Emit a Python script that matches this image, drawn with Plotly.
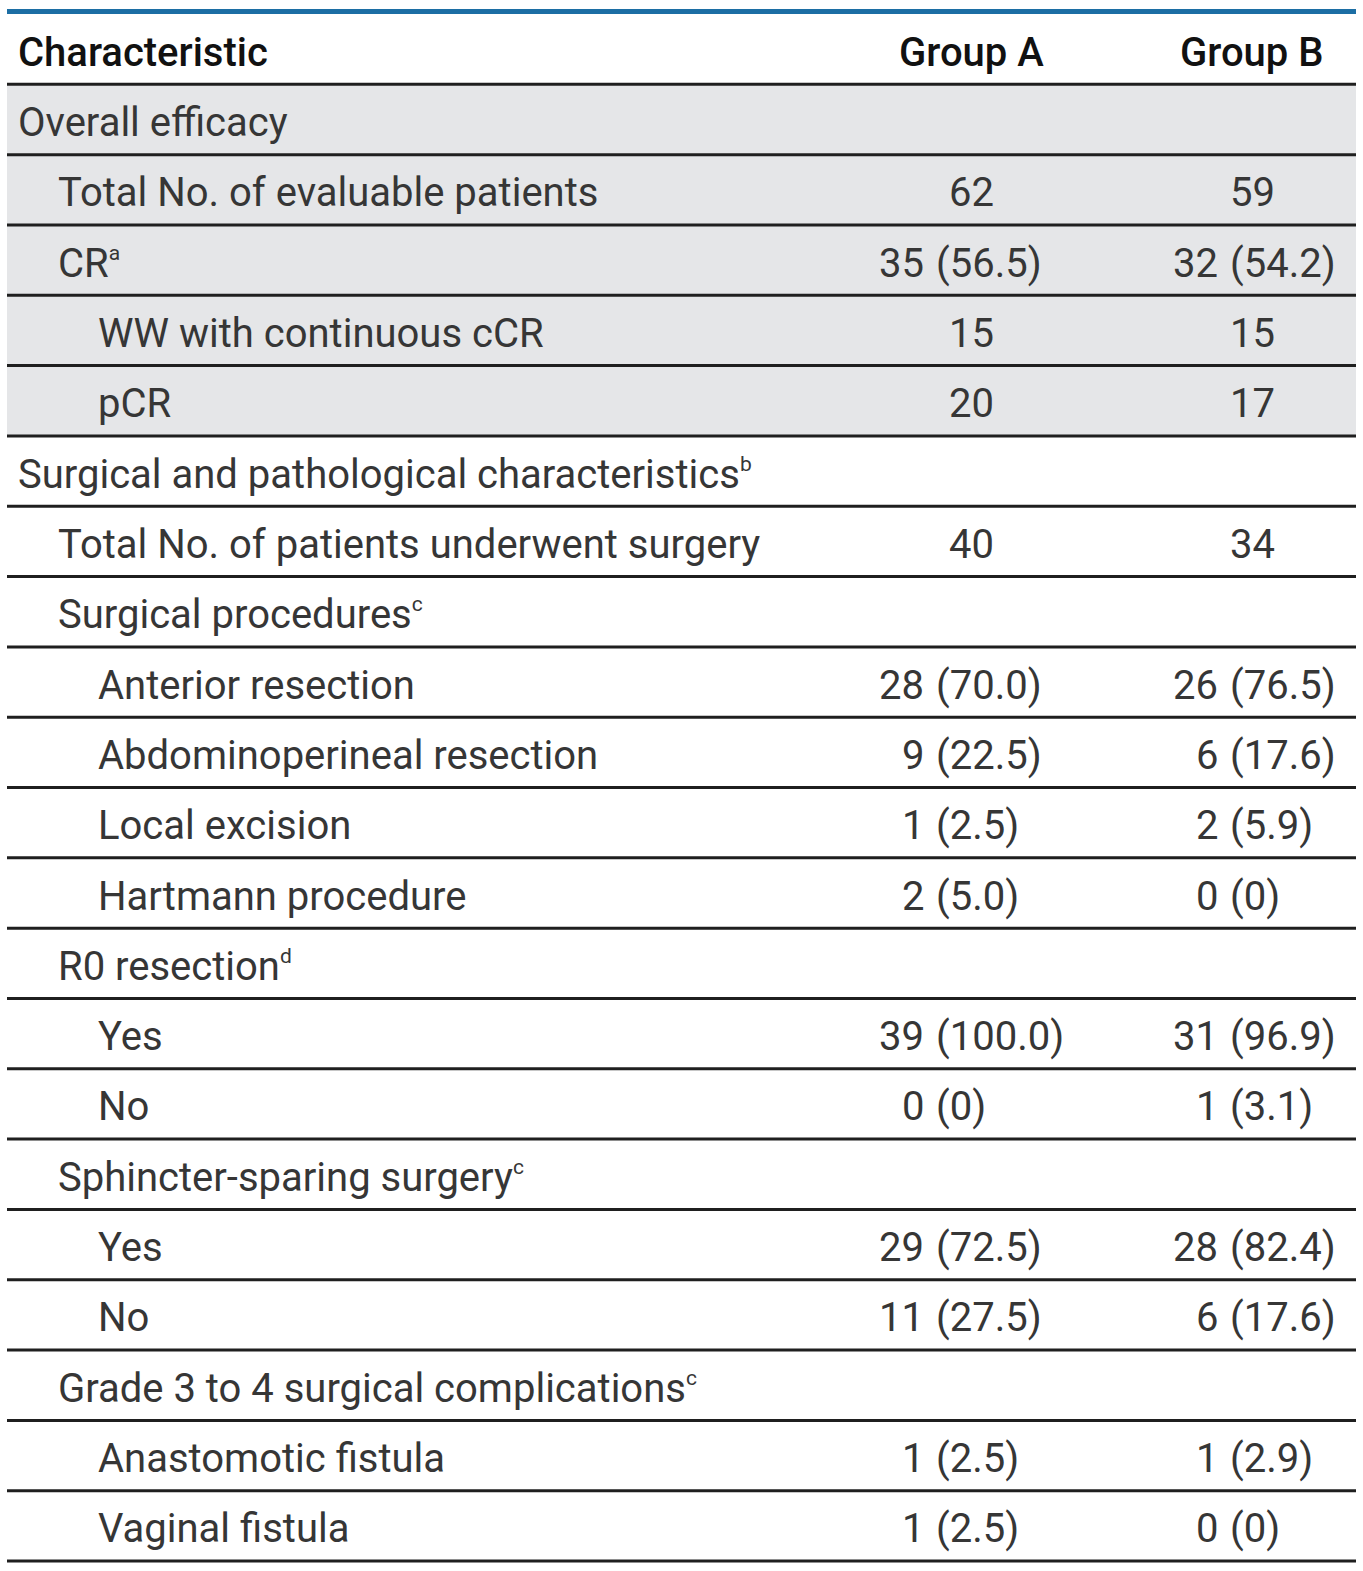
import plotly.graph_objects as go

# ---------------- data ----------------
headers = ["Characteristic", "Group A", "Group B"]

labels = [
    "Overall efficacy",
    "Total No. of evaluable patients",
    "CR",
    "WW with continuous cCR",
    "pCR",
    "Surgical and pathological characteristics",
    "Total No. of patients underwent surgery",
    "Surgical procedures",
    "Anterior resection",
    "Abdominoperineal resection",
    "Local excision",
    "Hartmann procedure",
    "R0 resection",
    "Yes",
    "No",
    "Sphincter-sparing surgery",
    "Yes",
    "No",
    "Grade 3 to 4 surgical complications",
    "Anastomotic fistula",
    "Vaginal fistula",
]
footnote_marks = ["", "", "a", "", "", "b", "", "c", "", "", "", "", "d", "", "", "c", "", "", "c", "", ""]
levels = [0, 1, 1, 2, 2, 0, 1, 1, 2, 2, 2, 2, 1, 2, 2, 1, 2, 2, 1, 2, 2]

a_n = [None, 62, 35, 15, 20, None, 40, None, 28, 9, 1, 2, None, 39, 0, None, 29, 11, None, 1, 1]
a_pct = [None, None, "56.5", None, None, None, None, None, "70.0", "22.5", "2.5", "5.0",
         None, "100.0", "0", None, "72.5", "27.5", None, "2.5", "2.5"]
b_n = [None, 59, 32, 15, 17, None, 34, None, 26, 6, 2, 0, None, 31, 1, None, 28, 6, None, 1, 0]
b_pct = [None, None, "54.2", None, None, None, None, None, "76.5", "17.6", "5.9", "0",
         None, "96.9", "3.1", None, "82.4", "17.6", None, "2.9", "0"]

shaded = [True] * 5 + [False] * 16

# ---------------- style ----------------
W, H = 1363, 1571
FONT = "Roboto, Arial, sans-serif"
FS = 40
TXT = "#363636"
HDR = "#111111"
X0, X1 = 7, 1356
indent_x = [16, 56, 96]
colA_center, colB_center = 971, 1252
colA_split, colB_split = 926, 1220
gap = 8
TOP_PX, ROW_PX = 14, 70.32
YSHIFT = -3

n_rows = len(labels) + 1  # including header
y_top = -0.5 - TOP_PX / ROW_PX
y_bot = (H - TOP_PX) / ROW_PX - 0.5

fig = go.Figure()
fig.add_trace(go.Scatter(x=[], y=[], showlegend=False))

annotations = []
shapes = []


def ann(x, y, text, anchor, color=TXT, weight=400):
    annotations.append(dict(
        x=x, y=y, xref="x", yref="y", text=text, showarrow=False,
        xanchor=anchor, yanchor="middle", yshift=YSHIFT,
        font=dict(family=FONT, size=FS, color=color, weight=weight),
    ))


# header
ann(indent_x[0], 0, headers[0], "left", HDR, 500)
ann(colA_center, 0, headers[1], "center", HDR, 500)
ann(colB_center, 0, headers[2], "center", HDR, 500)

# body
for i, lab in enumerate(labels):
    r = i + 1
    if shaded[i]:
        shapes.append(dict(type="rect", xref="x", yref="y", x0=X0, x1=X1, y0=r - 0.5, y1=r + 0.5,
                           fillcolor="#e5e6e8", line=dict(width=0), layer="below"))
    txt = lab
    if footnote_marks[i]:
        txt += f"<sup><span style='font-size:75%'>{footnote_marks[i]}</span></sup>"
    ann(indent_x[levels[i]], r, txt, "left")
    for n, pct, center, split in ((a_n[i], a_pct[i], colA_center, colA_split),
                                  (b_n[i], b_pct[i], colB_center, colB_split)):
        if n is None:
            continue
        if pct is None:
            ann(center, r, str(n), "center")
        else:
            ann(split, r, str(n), "right")
            ann(split + gap, r, f"({pct})", "left")

# horizontal rules
for k in range(n_rows):
    yb = k + 0.5
    shapes.append(dict(type="line", xref="x", yref="y", x0=X0, x1=X1, y0=yb, y1=yb,
                       line=dict(color="#1f1f1f", width=3)))
# top blue rule
yblue = -0.5 - 2.5 / ROW_PX
shapes.append(dict(type="line", xref="x", yref="y", x0=X0, x1=X1, y0=yblue, y1=yblue,
                   line=dict(color="#1c6ea4", width=5)))

fig.update_layout(
    width=W, height=H,
    margin=dict(l=0, r=0, t=0, b=0),
    paper_bgcolor="white", plot_bgcolor="white",
    xaxis=dict(range=[0, W], visible=False, fixedrange=True),
    yaxis=dict(range=[y_bot, y_top], visible=False, fixedrange=True),
    showlegend=False,
    annotations=annotations,
    shapes=shapes,
)

fig.write_html("out.html", config={"displayModeBar": False},
               post_script="document.body.style.margin='0';")
